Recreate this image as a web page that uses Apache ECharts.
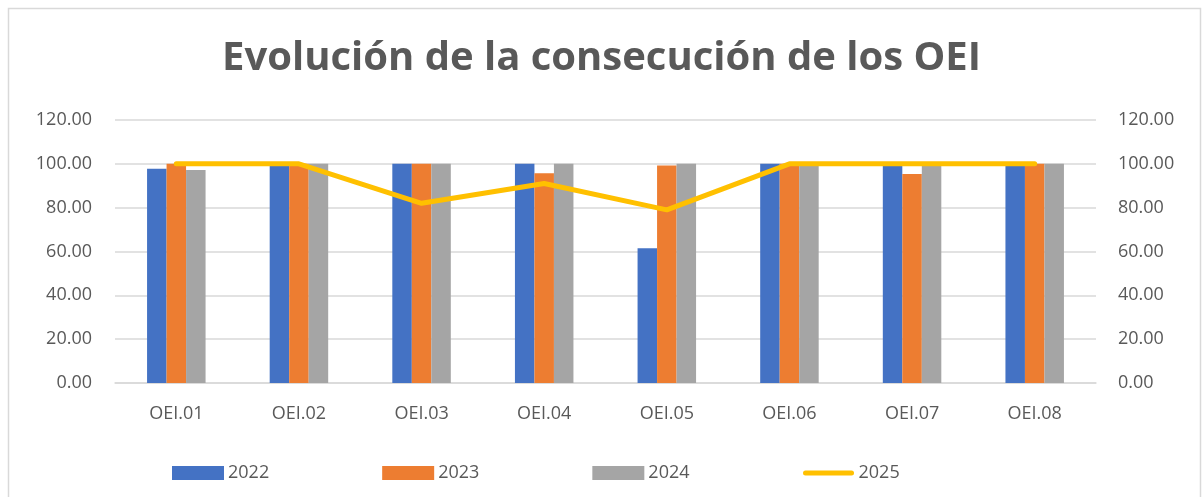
<!DOCTYPE html>
<html>
<head>
<meta charset="utf-8">
<script src="https://cdn.jsdelivr.net/npm/echarts@6/dist/echarts.min.js"></script>
<style>
  html, body { margin: 0; padding: 0; background: #fff; }
  #chart { width: 1203px; height: 497px; }
</style>
</head>
<body>
<div id="chart"></div>
<script>
// categorias y valores
var categories = ['OEI.01', 'OEI.02', 'OEI.03', 'OEI.04', 'OEI.05', 'OEI.06', 'OEI.07', 'OEI.08'];
var data2022 = [97.7, 100, 100, 100, 61.5, 100, 100, 100];
var data2023 = [100, 100, 100, 95.7, 99.2, 100, 95.4, 100];
var data2024 = [97.2, 100, 100, 100, 100, 100, 100, 100];
var data2025 = [100, 100, 82, 91, 79, 100, 100, 100];

var textColor = '#595959';
var fontFam = 'Open Sans';

let myChart = echarts.init(document.getElementById('chart'));
myChart.setOption({
    backgroundColor: '#fff',
    animation: false,
    title: {
        text: 'Evolución de la consecución de los OEI',
        left: 'center',
        top: 34,
        textStyle: {color: textColor, fontSize: 40, fontWeight: 'bold', fontFamily: fontFam}
    },
    graphic: [{
        type: 'rect',
        shape: {x: 8.5, y: 8.5, width: 1192, height: 500},
        style: {fill: 'none', stroke: '#D9D9D9', lineWidth: 1.5}
    }],
    legend: {
        bottom: 10,
        left: 167,
        itemWidth: 52,
        itemHeight: 14,
        itemGap: 113,
        textStyle: {color: textColor, fontSize: 18, fontFamily: fontFam, padding: [0, 0, 0, -1]},
        data: [
            {name: '2022', icon: 'rect'},
            {name: '2023', icon: 'rect'},
            {name: '2024', icon: 'rect'},
            // linea gruesa centrada (caja 52x14)
            {name: '2025', icon: 'path://M0,0L0,0M3,4.5L49,4.5A2.5,2.5,0,0,1,49,9.5L3,9.5A2.5,2.5,0,0,1,3,4.5ZM52,14L52,14'}
        ]
    },
    grid: {left: 115, right: 107, top: 120, bottom: 114},
    xAxis: {
        type: 'category',
        data: categories,
        axisLine: {lineStyle: {color: '#D9D9D9', width: 1.5}},
        axisTick: {show: false},
        axisLabel: {color: textColor, fontSize: 18, fontFamily: fontFam, margin: 22}
    },
    yAxis: [
        {
            type: 'value', min: 0, max: 120, interval: 20,
            axisLine: {show: false}, axisTick: {show: false},
            splitLine: {lineStyle: {color: '#D9D9D9', width: 1.5}},
            axisLabel: {color: textColor, fontSize: 18, fontFamily: fontFam, margin: 23,
                formatter: function (v) { return v.toFixed(2); }}
        },
        {
            type: 'value', min: 0, max: 120, interval: 20, position: 'right',
            axisLine: {show: false}, axisTick: {show: false}, splitLine: {show: false},
            axisLabel: {color: textColor, fontSize: 18, fontFamily: fontFam, margin: 22,
                formatter: function (v) { return v.toFixed(2); }}
        }
    ],
    series: [
        {name: '2022', type: 'bar', data: data2022, barWidth: 19.5, barGap: '0%',
            itemStyle: {color: '#4472C4'}},
        {name: '2023', type: 'bar', data: data2023, barWidth: 19.5, barGap: '0%',
            itemStyle: {color: '#ED7D31'}},
        {name: '2024', type: 'bar', data: data2024, barWidth: 19.5, barGap: '0%',
            itemStyle: {color: '#A5A5A5'}},
        {name: '2025', type: 'line', yAxisIndex: 1, data: data2025, showSymbol: false, symbol: 'none',
            lineStyle: {color: '#FFC000', width: 5, cap: 'round', join: 'round'},
            itemStyle: {color: '#FFC000'}}
    ]
});
</script>
</body>
</html>
